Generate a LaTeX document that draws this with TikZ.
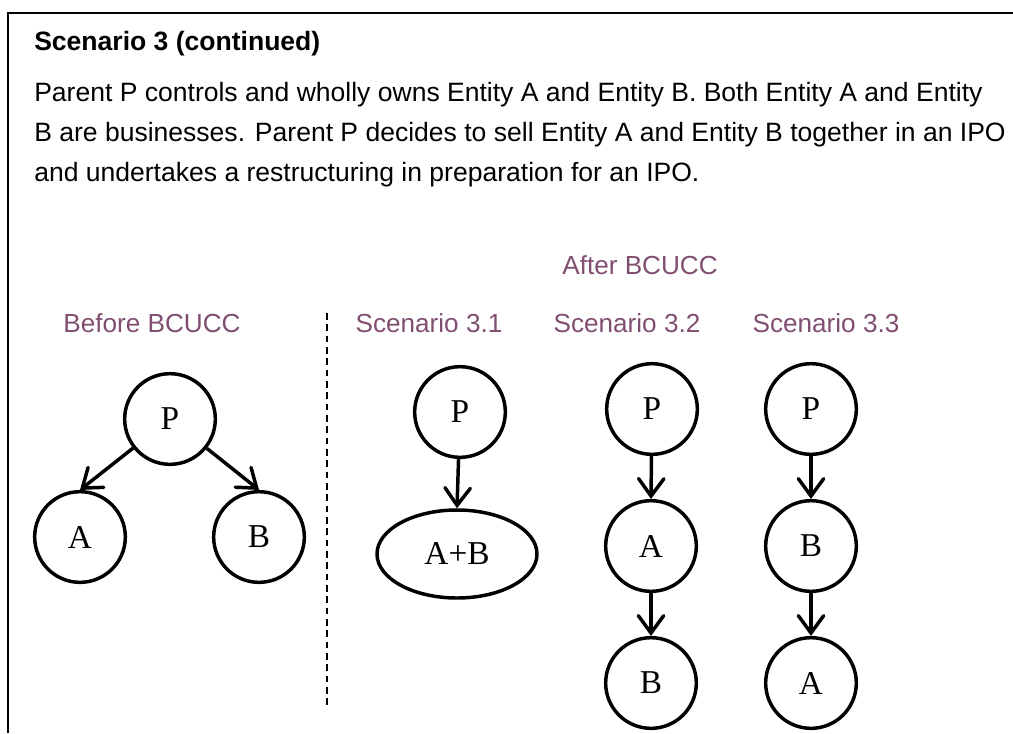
\documentclass[tikz,border=0pt]{standalone}
\usepackage{fontspec}
\setmainfont{Liberation Sans}
\newfontfamily\entfont{Liberation Serif}
\usetikzlibrary{arrows.meta}
\usetikzlibrary{shapes.geometric}
\definecolor{plum}{RGB}{128,78,112}
\tikzset{
  ent/.style={circle, draw, line width=2.6pt, minimum size=68pt, inner sep=0pt,
    font=\entfont\fontsize{25}{30}\selectfont},
  own/.style={line width=2.6pt, -{Straight Barb[length=13pt,width=19pt,line cap=round]}},
  hdr/.style={text=plum, anchor=base, inner sep=0pt, font=\fontsize{19.6}{23}\selectfont},
  txt/.style={anchor=base west, inner sep=0pt, font=\fontsize{19.9}{24}\selectfont}
}

\begin{document}
\begin{tikzpicture}[x=0.75pt,y=-0.75pt]
\useasboundingbox (0,0) rectangle (1013,733);
\draw[line width=1.6pt] (8,733) -- (8,13) -- (1013,13);
% text of the case
\node[txt, font=\bfseries\fontsize{19.9}{24}\selectfont] (title) at (34,50) {Scenario 3 (continued)};
\node[txt] (l1) at (34,101) {Parent P controls and wholly owns Entity A and Entity B. Both Entity A and Entity};
\node[txt] (l2) at (34,141) {B are businesses. Parent P decides to sell Entity A and Entity B together in an IPO};
\node[txt] (l3) at (34,181) {and undertakes a restructuring in preparation for an IPO.};
% headings
\node[hdr] (after) at (640,274) {After BCUCC};
\node[hdr] (before) at (152,332) {Before BCUCC};
\node[hdr] (s31) at (429,332) {Scenario 3.1};
\node[hdr] (s32) at (627,332) {Scenario 3.2};
\node[hdr] (s33) at (826,332) {Scenario 3.3};
\coordinate (cut1) at (327,313);
\coordinate (cut2) at (327,705);
\draw[line width=1.1pt, dash pattern=on 5pt off 3.5pt] (cut1) -- (cut2);
% before
\node[ent] (P0) at (170,419) {P};
\node[ent] (A0) at (80,537) {A};
\node[ent] (B0) at (259,537) {B};
\draw[own] (P0) -- (A0.north);
\draw[own] (P0) -- (B0.north);
% scenario 3.1
\node[ent] (P1) at (460,412) {P};
\node[ellipse, draw, line width=2.6pt, minimum width=120pt, minimum height=66pt, inner sep=0pt,
  font=\entfont\fontsize{25}{30}\selectfont] (AB1) at (457,554) {A+B};
\draw[own] (P1) -- (AB1.north);
% scenario 3.2
\node[ent] (P2) at (652,409) {P};
\node[ent] (A2) at (651,546) {A};
\node[ent] (B2) at (651,683) {B};
\draw[own] (P2) -- (A2.north);
\draw[own] (A2) -- (B2.north);
% scenario 3.3
\node[ent] (P3) at (811,409) {P};
\node[ent] (B3) at (811,546) {B};
\node[ent] (A3) at (811,683) {A};
\draw[own] (P3) -- (B3.north);
\draw[own] (B3) -- (A3.north);
\end{tikzpicture}
\end{document}
